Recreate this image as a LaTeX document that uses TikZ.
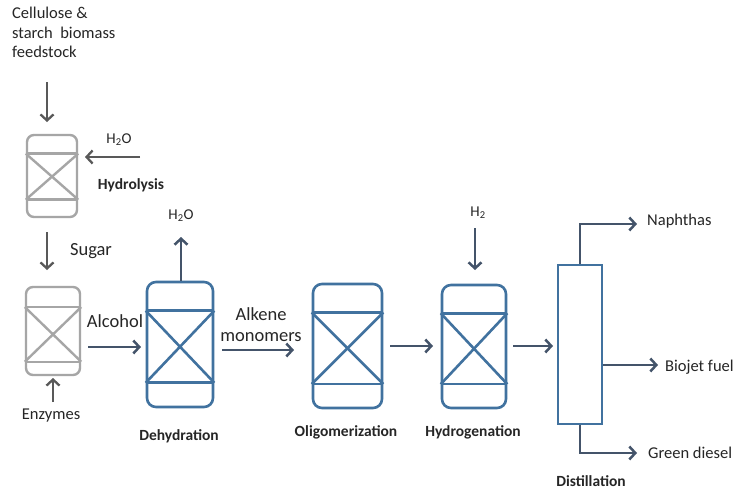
\documentclass[tikz,border=0pt]{standalone}
\usepackage{fontspec}
\setmainfont{Carlito}
\usetikzlibrary{arrows.meta,calc}
\definecolor{rblue}{HTML}{41729F}
\definecolor{rslate}{HTML}{44546A}
\definecolor{rgrayline}{HTML}{A6A6A6}
\definecolor{rdark}{HTML}{595959}
\definecolor{rtext}{HTML}{262626}
\tikzset{
  reactor/.style={draw=rblue, line width=2.6pt, rounded corners=9pt, minimum width=#1, inner sep=0pt},
  greyreactor/.style={draw=rgrayline, line width=2.4pt, rounded corners=7pt, inner sep=0pt},
  arr/.style={draw=rslate, line width=2.8pt, -{Straight Barb[length=6pt,width=13pt,line width=2.5pt]}},
  garr/.style={draw=rdark, line width=2.5pt, -{Straight Barb[length=6pt,width=13pt,line width=2.3pt]}},
  lbl/.style={text=rtext, font=\fontsize{16.5}{19.5}\selectfont, inner sep=0pt},
  biglbl/.style={text=rtext, font=\fontsize{18.5}{21}\selectfont, inner sep=0pt},
  boldlbl/.style={text=rtext, font=\bfseries\fontsize{15.5}{18}\selectfont, inner sep=0pt},
  smalllbl/.style={text=rtext, font=\fontsize{15}{17}\selectfont, inner sep=0pt},
}
\newcommand{\reactorinside}[3]{%
  \draw[#2] ($(#1.north west)!0.235!(#1.south west)$) coordinate (#1-a) -- ($(#1.north east)!0.235!(#1.south east)$) coordinate (#1-b);
  \draw[#2] ($(#1.north west)!#3!(#1.south west)$) coordinate (#1-c) -- ($(#1.north east)!#3!(#1.south east)$) coordinate (#1-d);
  \draw[#2] (#1-a) -- (#1-d);
  \draw[#2] (#1-b) -- (#1-c);
}
\begin{document}
\begin{tikzpicture}[x=1pt,y=-1pt]
\useasboundingbox[fill=white] (0,0) rectangle (734,490);

% reactors
\node[greyreactor, minimum width=50pt, minimum height=82pt] (hyd) at (52,176) {};
\reactorinside{hyd}{draw=rgrayline, line width=2.4pt}{0.78}
\node[greyreactor, minimum width=54pt, minimum height=88pt] (enz) at (53,331) {};
\reactorinside{enz}{draw=rgrayline, line width=2.4pt}{0.84}
\node[reactor=66pt, minimum height=125pt] (deh) at (180,344.5) {};
\reactorinside{deh}{draw=rblue, line width=2.6pt}{0.8}
\node[reactor=69pt, minimum height=124pt] (oli) at (347.5,346) {};
\reactorinside{oli}{draw=rblue, line width=2.6pt}{0.8}
\node[reactor=64pt, minimum height=123pt] (hgn) at (474,346.5) {};
\reactorinside{hgn}{draw=rblue, line width=2.6pt}{0.8}
\node[draw=rblue, line width=2.6pt, minimum width=44pt, minimum height=159pt, inner sep=0pt] (dist) at (580,344.5) {};

% texts
\node[lbl, anchor=north west, align=left] (feed) at (12,7) {Cellulose \&\\starch\ \ biomass\\feedstock};
\node[smalllbl] (h2oa) at (119,140) {H\textsubscript{2}O};
\node[boldlbl] (hydl) at (131,185) {Hydrolysis};
\node[biglbl] (sugar) at (91,251) {Sugar};
\node[lbl] (enzl) at (51,416) {Enzymes};
\node[biglbl] (alc) at (115,321) {Alcohol};
\node[smalllbl] (h2ob) at (181,216) {H\textsubscript{2}O};
\node[biglbl, align=center] (alk) at (261,325) {Alkene\\monomers};
\node[boldlbl] (dehl) at (179,436) {Dehydration};
\node[boldlbl] (olil) at (346,432) {Oligomerization};
\node[boldlbl] (hgnl) at (473,432) {Hydrogenation};
\node[smalllbl] (h2l) at (478,213) {H\textsubscript{2}};
\node[boldlbl] (distl) at (591,481) {Distillation};
\node[lbl, anchor=west] (naph) at (647,221) {Naphthas};
\node[lbl, anchor=west] (bio) at (665,367) {Biojet fuel};
\node[lbl, anchor=west] (gd) at (648,453) {Green diesel};

% coordinates for free arrow ends
\coordinate (feedend) at (47,122);
\coordinate (feedstart) at (47,82);
\coordinate (h2oastart) at (140,157);
\coordinate (h2oaend) at (85,157);
\coordinate (sugstart) at (47,232);
\coordinate (sugend) at (47,270);
\coordinate (enzstart) at (53,402);
\coordinate (enzend) at (53,378);
\coordinate (h2obend) at (181,237);
\coordinate (h2start) at (475,228);
\coordinate (h2end) at (475,270);

% arrows
\draw[garr] (feedstart) -- (feedend);
\draw[garr] (h2oastart) -- (h2oaend);
\draw[garr] (sugstart) -- (sugend);
\draw[garr] (enzstart) -- (enzend);
\draw[arr] (88,347) -- (141,347);
\draw[arr] (deh.north -| h2obend) -- (h2obend);
\draw[arr] (222,350) -- (294,350);
\draw[arr] (390,346) -- (433,346);
\draw[arr] (h2start) -- (h2end);
\draw[arr] (513,346) -- (553,346);
\draw[arr] (dist.north) -- (580,224) -- (637,224);
\draw[arr] (dist.east |- 0,365) -- (658,365);
\draw[arr] (dist.south) -- (580,453) -- (637,453);
\end{tikzpicture}
\end{document}
